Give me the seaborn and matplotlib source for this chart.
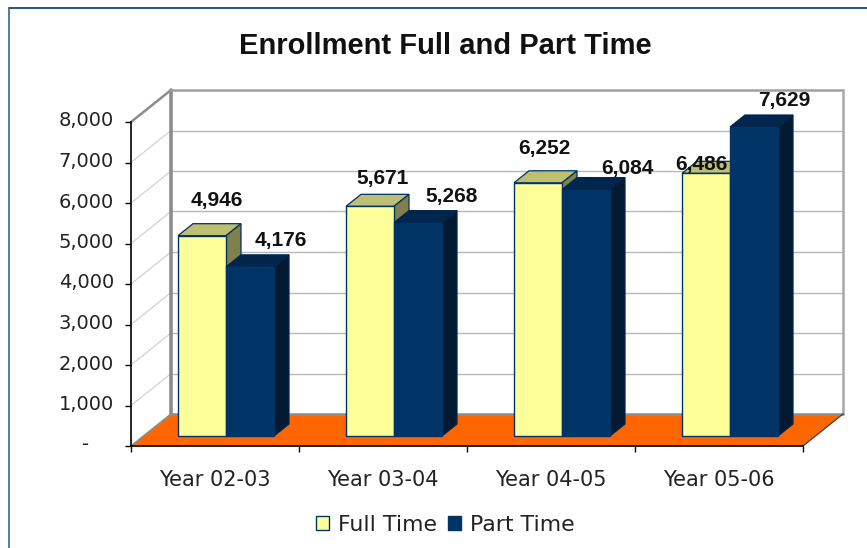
import numpy as np
import pandas as pd
import matplotlib
matplotlib.use("Agg")
import matplotlib.pyplot as plt
from matplotlib.lines import Line2D
from matplotlib.patches import Polygon
from matplotlib.transforms import ScaledTranslation
import seaborn as sns

categories = ["Year 02-03", "Year 03-04", "Year 04-05", "Year 05-06"]
full_time = [4946, 5671, 6252, 6486]
part_time = [4176, 5268, 6084, 7629]
series_names = ["Full Time", "Part Time"]
y_ticks = [0, 1000, 2000, 3000, 4000, 5000, 6000, 7000, 8000]

# label placement relative to the top centre of each bar's front face, in pixels
label_dx = [[15, 13, 6, -5], [31, 34, 41, 30]]
label_dy = [[35, 28, 34, 9], [26, 26, 21, 27]]

sns.set_style("white")
plt.rcParams["font.family"] = ["DejaVu Sans"]
BOLD = "Liberation Sans"

W, H = 867, 548
fig = plt.figure(figsize=(W / 100, H / 100), dpi=100, facecolor="white")


def rect(l, t, r, b):
    return [l / W, 1 - b / H, (r - l) / W, (b - t) / H]


ax = fig.add_axes(rect(131, 122, 803, 446))
axb = fig.add_axes(rect(142, 112, 814, 436))
axb.patch.set_alpha(0)

X0, X1, Y1 = -0.5, 3.5, 8000
px_x = 4 / 672   # category units per pixel
px_y = 8000 / 324  # value units per pixel
DX, DY = 40 * px_x, 32 * px_y     # depth of the chart box
dx, dy = 15 * px_x, 12 * px_y     # depth of a bar

ax.set_xlim(X0, X1)
ax.set_ylim(0, Y1)

# floor and walls
ax.add_patch(Polygon([(X0, 0), (X1, 0), (X1 + DX, DY), (X0 + DX, DY)],
                     closed=True, fc="#FF6600", ec="none", zorder=1, clip_on=False))
for v in y_ticks[1:-1]:
    ax.plot([X0, X0 + DX], [v, v + DY], color="#D2D2D2", lw=0.9, zorder=1, clip_on=False)
    ax.plot([X0 + DX, X1 + DX], [v + DY, v + DY], color="#B8B8B8", lw=1.0, zorder=1, clip_on=False)
ax.plot([X0, X0 + DX], [Y1, Y1 + DY], color="#8C8C8C", lw=1.8, zorder=2, clip_on=False)
ax.plot([X0 + DX, X0 + DX], [DY, Y1 + DY], color="#8C8C8C", lw=2.6, zorder=2, clip_on=False)
ax.plot([X0 + DX, X1 + DX], [Y1 + DY, Y1 + DY], color="#A0A0A0", lw=1.8, zorder=2, clip_on=False)
ax.plot([X1 + DX, X1 + DX], [DY, Y1 + DY], color="#A8A8A8", lw=1.8, zorder=2, clip_on=False)
ax.plot([X0 + DX, X1 + DX], [DY, DY], color="#8C8C8C", lw=1.8, zorder=2, clip_on=False)
ax.plot([X0, X0 + DX], [0, DY], color="#8C8C8C", lw=1.2, zorder=2, clip_on=False)
ax.plot([X1, X1 + DX], [0, DY], color="#404040", lw=0.9, zorder=2, clip_on=False)

# axes
for s in ["top", "right"]:
    ax.spines[s].set_visible(False)
for s in ["left", "bottom"]:
    ax.spines[s].set_color("black")
    ax.spines[s].set_linewidth(1.2)
    ax.spines[s].set_zorder(6)
ax.set_yticks(y_ticks)
ax.set_yticklabels(["-\u00a0\u00a0\u00a0\u00a0" if v == 0 else f"{v:,}" for v in y_ticks],
                   fontsize=14, color="#222222")
ax.set_xticks(range(len(categories)))
ax.set_xticklabels(categories, fontsize=15, color="#222222")
ax.set_xticks(np.arange(X0, X1 + 1), minor=True)
ax.tick_params(axis="x", which="major", length=0, pad=17)
ax.tick_params(axis="x", which="minor", length=4.3, width=1, color="black", bottom=True)
ax.tick_params(axis="y", length=4.3, width=1, color="black", pad=8, left=True)
ax.set_xlabel("")
ax.set_ylabel("")
shift_up = ScaledTranslation(0, 3 / 100, fig.dpi_scale_trans)
for lbl in ax.get_yticklabels():
    lbl.set_transform(lbl.get_transform() + shift_up)

# bars
df = pd.DataFrame({
    "year": categories * 2,
    "series": [series_names[0]] * 4 + [series_names[1]] * 4,
    "value": full_time + part_time,
})
palette = {series_names[0]: "#FFFF99", series_names[1]: "#003366"}
sns.barplot(data=df, x="year", y="value", hue="series", hue_order=series_names,
            palette=palette, saturation=1, width=96 / 168, gap=0, ax=axb,
            edgecolor="#003366", linewidth=1.0)
axb.set_xlim(X0, X1)
axb.set_ylim(0, Y1)
axb.axis("off")

top_colors = ["#BFBF73", "#00264D"]
side_colors = ["#80804D", "#001A33"]
face_edges = ["#003366", "#00264D"]
for k, cont in enumerate(axb.containers):
    for i, bar in enumerate(cont.patches):
        bar.set_zorder(3 + 2 * k)
        bar.set_clip_on(False)
        x0, x1 = bar.get_x(), bar.get_x() + bar.get_width()
        h = bar.get_height()
        axb.add_patch(Polygon([(x0, h), (x1, h), (x1 + dx, h + dy), (x0 + dx, h + dy)], closed=True,
                              fc=top_colors[k], ec=face_edges[k], lw=0.9, zorder=2 + 2 * k, clip_on=False))
        axb.add_patch(Polygon([(x1, 0), (x1 + dx, dy), (x1 + dx, h + dy), (x1, h)], closed=True,
                              fc=side_colors[k], ec=face_edges[k], lw=0.9, zorder=2 + 2 * k, clip_on=False))
        axb.annotate(f"{int(h):,}", xy=((x0 + x1) / 2, h), xycoords="data",
                     xytext=(label_dx[k][i], label_dy[k][i]), textcoords="offset pixels",
                     ha="center", va="center", fontsize=15, fontweight="bold",
                     family=BOLD, color="#111111", zorder=10, annotation_clip=False)

sns.move_legend(axb, "center", bbox_to_anchor=(445 / W, 1 - 525 / H),
                bbox_transform=fig.transFigure, ncol=2, frameon=False, title=None,
                fontsize=15.8, handlelength=0.62, handleheight=0.62, handletextpad=0.38,
                columnspacing=0.5, borderpad=0, labelcolor="#222222")

fig.text(445 / W, 1 - 46 / H, "Enrollment Full and Part Time", ha="center", va="center",
         fontsize=21, fontweight="bold", family=BOLD, color="#111111")

# chart frame
fig.add_artist(Line2D([9 / W, 1, ], [1 - 8 / H, 1 - 8 / H], color="#003366", lw=1.2))
fig.add_artist(Line2D([9 / W, 9 / W], [1 - 8 / H, 0], color="#336699", lw=1.2))

fig.savefig("out.png", dpi=100)
